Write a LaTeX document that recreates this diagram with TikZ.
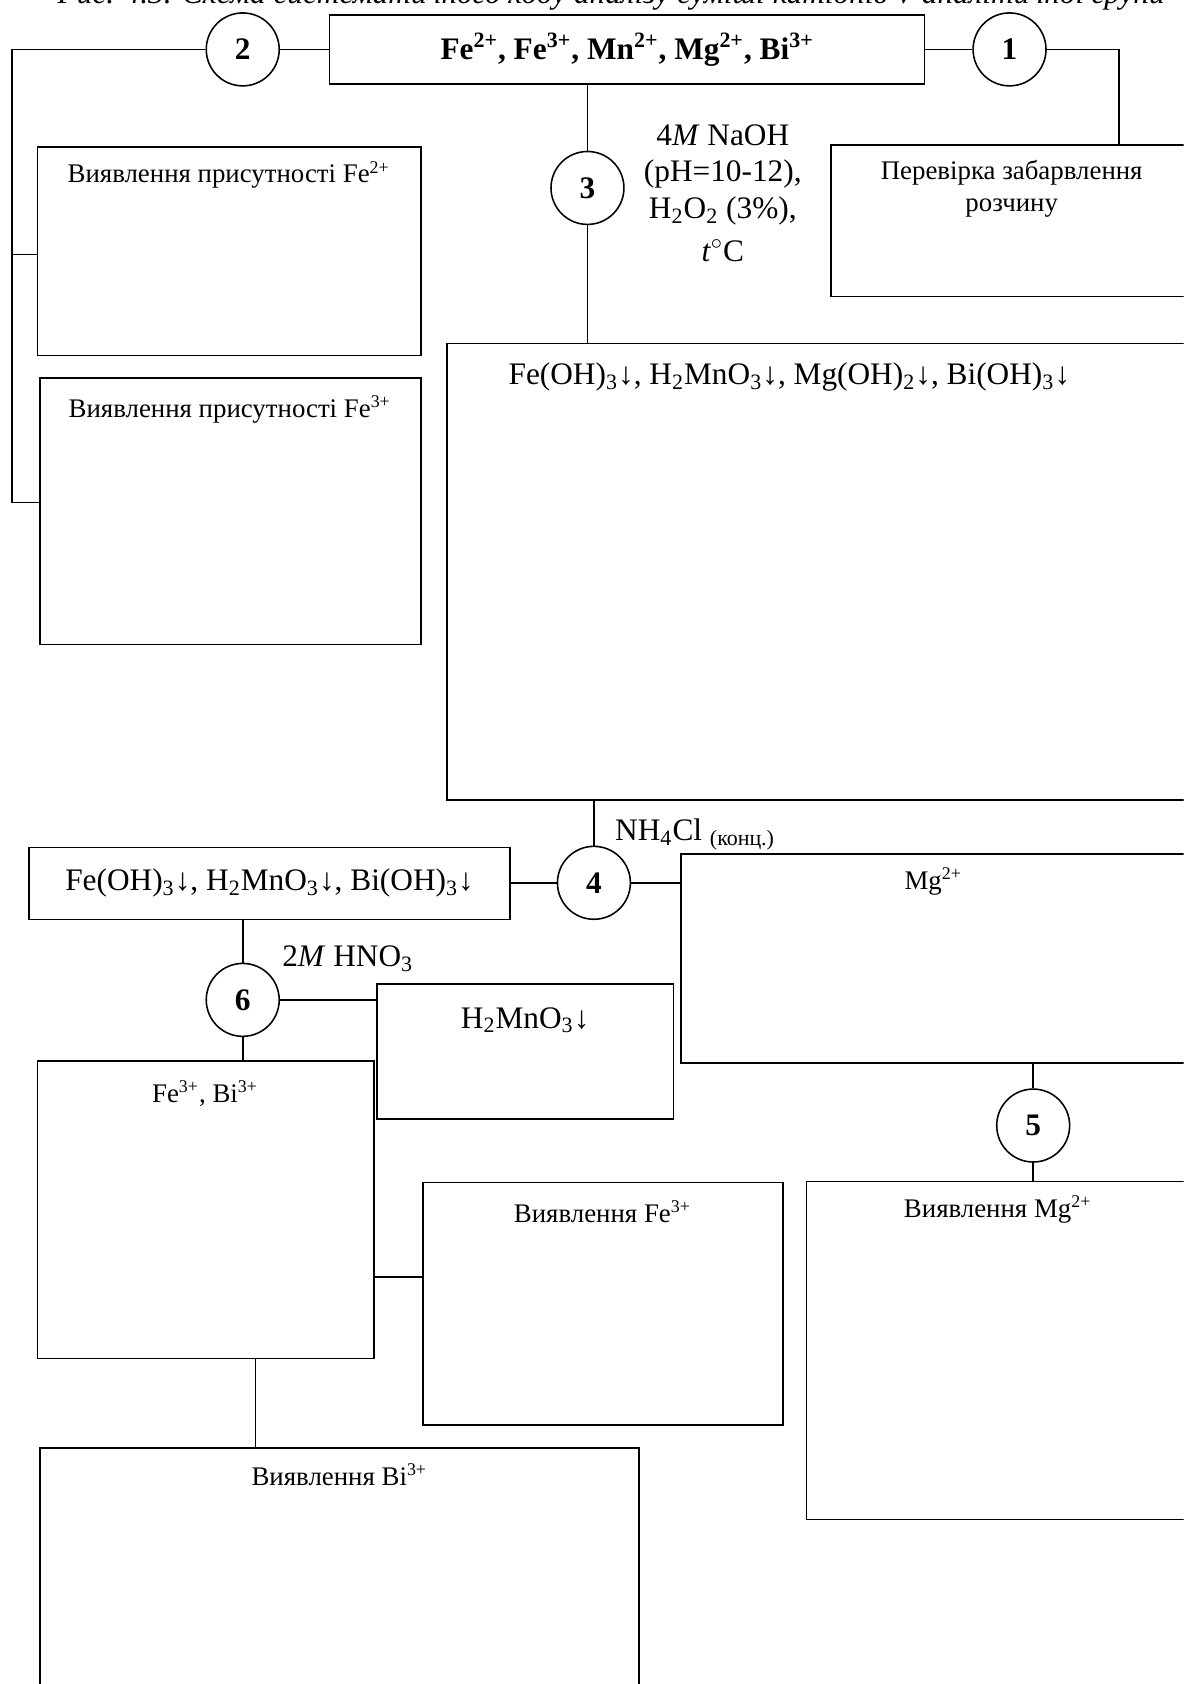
\documentclass[tikz,border=0pt]{standalone}
\usepackage{fontspec}
\setmainfont{Liberation Serif}
\usetikzlibrary{fit}
\newcommand\formfont{\fontsize{14}{16.3}\selectfont}
\newcommand\notefont{\fontsize{12}{14.5}\selectfont}
\tikzset{
box/.style={draw, line width=0.7pt, inner sep=0pt},
num/.style={draw, circle, line width=0.7pt, minimum size=32.6pt, inner sep=0pt, font=\formfont\bfseries},
note/.style={font=\notefont, inner sep=1pt, align=center},
form/.style={font=\formfont, inner sep=1pt, align=center}
}
\begin{document}
\begin{tikzpicture}[x=0.48pt, y=-0.48pt, line width=0.7pt]
\useasboundingbox (0,0) rectangle (1102,1568);
\clip (0,0) rectangle (1102,1568);

\node[font=\formfont\itshape, inner sep=0pt, anchor=base west] (head) at (53,3) {Рис. 4.3. Схема систематичного ходу аналізу суміші катіонів V аналітичної групи};

% top row
\node[box, fit={(307,14) (861,78)}] (mix) {};
\node[form, font=\formfont\bfseries] (mixt) at (mix) {Fe\textsuperscript{2+}, Fe\textsuperscript{3+}, Mn\textsuperscript{2+}, Mg\textsuperscript{2+}, Bi\textsuperscript{3+}};
\node[num] (c2) at (226,46) {2};
\node[num] (c1) at (940,46) {1};
\draw (c2) -- (mix);
\draw (mix) -- (c1);

% left branch
\coordinate (bus) at (11,46);
\node[box, fit={(35,137) (392,331)}] (fe2det) {};
\node[note] (fe2dett) at (213,163) {Виявлення присутності Fe\textsuperscript{2+}};
\node[box, fit={(37,352) (392,600)}] (fe3det) {};
\node[note] (fe3dett) at (214,381) {Виявлення присутності Fe\textsuperscript{3+}};
\draw (c2) -- (bus) |- (fe2det.west |- 0,237);
\draw (bus) |- (fe3det.west |- 0,468);

% right branch
\node[box, fit={(774,135) (1110,276)}] (colour) {};
\node[note] (colourt) at (942,176) {Перевірка забарвлення\\розчину};
\coordinate (rbus) at (1042,46);
\draw (c1) -- (rbus) -- (rbus |- colour.north);

% step 3
\node[num] (c3) at (547,175) {3};
\draw (c3) -- (c3 |- mix.south);
\node[form] (naoh) at (673,180) {4\textit{M} NaOH\\(pH=10-12),\\H\textsubscript{2}O\textsubscript{2} (3\%),\\[3pt]\textit{t}$^{\circ}$C};
\node[box, fit={(416,320) (1110,745)}] (prec) {};
\node[form] (prect) at (735,351) {Fe(OH)\textsubscript{3}↓, H\textsubscript{2}MnO\textsubscript{3}↓, Mg(OH)\textsubscript{2}↓, Bi(OH)\textsubscript{3}↓};
\draw (c3) -- (c3 |- prec.north);

% step 4
\node[num] (c4) at (553,822) {4};
\draw (c4) -- (c4 |- prec.south);
\node[form, anchor=west] (nh4cl) at (570,777) {NH\textsubscript{4}Cl \textsubscript{(конц.)}};
\node[box, fit={(27,789) (475,856)}] (femnbi) {};
\node[form] (femnbit) at (femnbi) {Fe(OH)\textsubscript{3}↓, H\textsubscript{2}MnO\textsubscript{3}↓, Bi(OH)\textsubscript{3}↓};
\draw (c4) -- (c4 -| femnbi.east);
\node[box, fit={(634,795) (1110,990)}] (mg) {};
\node[note] (mgt) at (869,821) {Mg\textsuperscript{2+}};
\draw (c4) -- (c4 -| mg.west);

% step 5
\node[num] (c5) at (962,1048) {5};
\draw (c5) -- (c5 |- mg.south);
\node[box, fit={(751,1100) (1110,1415)}] (mgdet) {};
\node[note] (mgdett) at (929,1126) {Виявлення Mg\textsuperscript{2+}};
\draw (c5) -- (c5 |- mgdet.north);

% step 6
\node[num] (c6) at (226,931) {6};
\draw (c6) -- (c6 |- femnbi.south);
\node[form, anchor=west] (hno3) at (260,893) {2\textit{M} HNO\textsubscript{3}};
\node[box, fit={(351,916) (627,1042)}] (mno) {};
\node[form] (mnot) at (489,950) {H\textsubscript{2}MnO\textsubscript{3}↓};
\draw (c6) -- (c6 -| mno.west);
\node[box, fit={(35,988) (348,1265)}] (febi) {};
\node[note] (febit) at (191,1018) {Fe\textsuperscript{3+}, Bi\textsuperscript{3+}};
\draw (c6) -- (c6 |- febi.north);
\node[box, fit={(394,1101) (729,1327)}] (fe3) {};
\node[note] (fe3t) at (561,1128) {Виявлення Fe\textsuperscript{3+}};
\draw (febi.east |- 0,1189) -- (fe3.west |- 0,1189);
\node[box, fit={(37,1348) (595,1600)}] (bi) {};
\node[note] (bit) at (316,1373) {Виявлення Bi\textsuperscript{3+}};
\draw (febi.south -| 238,0) -- (bi.north -| 238,0);
\end{tikzpicture}
\end{document}
